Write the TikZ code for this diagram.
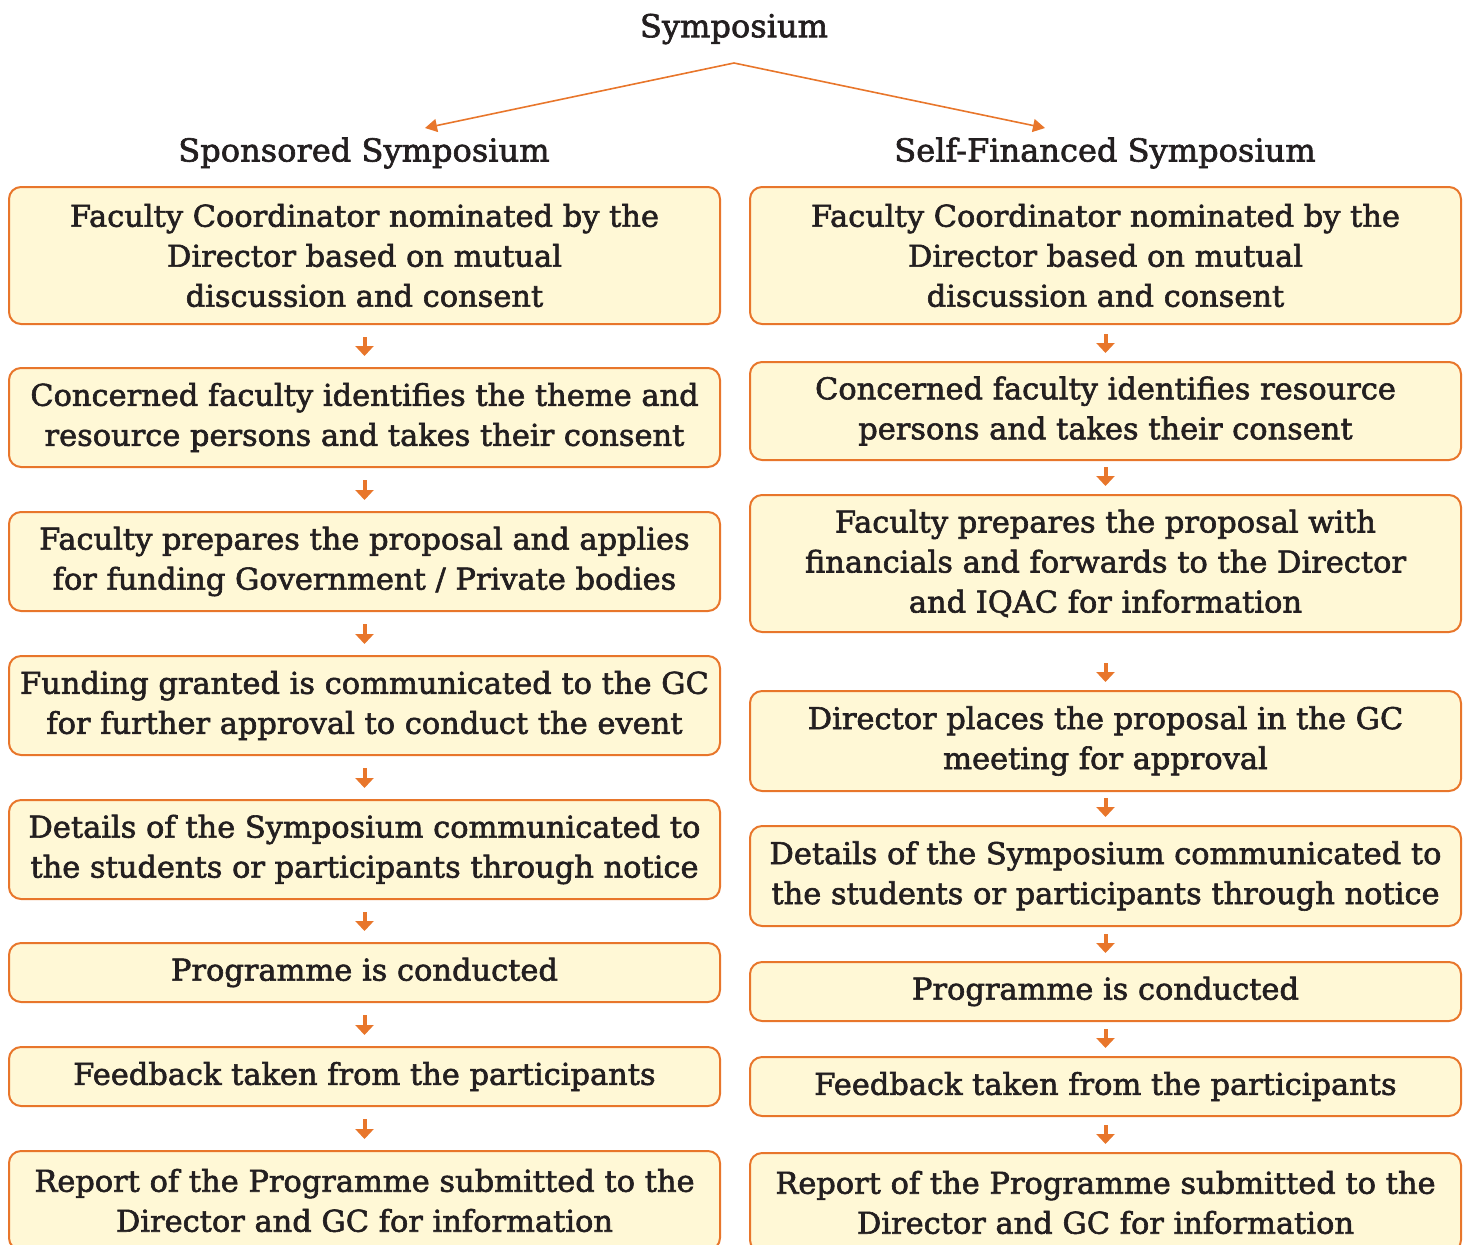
\documentclass[tikz,border=0pt]{standalone}
\usepackage{fontspec}
\setmainfont{DejaVu Serif}[FakeBold=2, FakeStretch=1.015]
\usepackage{tikz}
\usetikzlibrary{arrows.meta}

\definecolor{boxline}{HTML}{E8762B}
\definecolor{boxfill}{HTML}{FFF8D6}
\definecolor{inktext}{HTML}{231F20}

\begin{document}
\begin{tikzpicture}[x=0.5pt,y=-0.5pt,
    flowbox/.style={draw=boxline, fill=boxfill, line width=1pt, rounded corners=6pt,
        minimum width=355.5pt, inner sep=0pt, align=center, text=inktext,
        font=\fontsize{15}{20}\selectfont},
    headtext/.style={text=inktext, inner sep=0pt, font=\fontsize{15.8}{20}\selectfont},
    flowarrow/.style={draw=boxline, line width=2pt,
        -{Triangle[width=9pt,length=5pt]}},
    toparrow/.style={draw=boxline, line width=0.8pt,
        -{Triangle[width=6.5pt,length=6pt]}}]
    \useasboundingbox (0,0) rectangle (1466,1244);

    % Headings
    \node[headtext] (title) at (734,29) {Symposium};
    \node[headtext] (sponsored) at (364,153) {Sponsored Symposium};
    \node[headtext] (selffin) at (1105,153) {Self-Financed Symposium};
    \coordinate (split) at (734,63);
    \coordinate (spontip) at (425,128);
    \coordinate (selftip) at (1045,128);
    \draw[toparrow] (split) -- (spontip);
    \draw[toparrow] (split) -- (selftip);

    % Sponsored column
    \node[flowbox, minimum height=68.5pt] (L1) at (364.5,255.5)
        {Faculty Coordinator nominated by the\\Director based on mutual\\discussion and consent};
    \node[flowbox, minimum height=49.5pt] (L2) at (364.5,417.5)
        {Concerned faculty identifies the theme and\\resource persons and takes their consent};
    \node[flowbox, minimum height=49.5pt] (L3) at (364.5,561.5)
        {Faculty prepares the proposal and applies\\for funding Government / Private bodies};
    \node[flowbox, minimum height=49.5pt] (L4) at (364.5,705.5)
        {Funding granted is communicated to the GC\\for further approval to conduct the event};
    \node[flowbox, minimum height=49.5pt] (L5) at (364.5,849.5)
        {Details of the Symposium communicated to\\the students or participants through notice};
    \node[flowbox, minimum height=29.5pt] (L6) at (364.5,972.5)
        {Programme is conducted};
    \node[flowbox, minimum height=29.5pt] (L7) at (364.5,1076.5)
        {Feedback taken from the participants};
    \node[flowbox, minimum height=49.5pt] (L8) at (364.5,1200.5)
        {Report of the Programme submitted to the\\Director and GC for information};

    % Self-financed column
    \node[flowbox, minimum height=68.5pt] (R1) at (1105.5,255.5)
        {Faculty Coordinator nominated by the\\Director based on mutual\\discussion and consent};
    \node[flowbox, minimum height=49pt] (R2) at (1105.5,411)
        {Concerned faculty identifies resource\\persons and takes their consent};
    \node[flowbox, minimum height=68.5pt] (R3) at (1105.5,563.5)
        {Faculty prepares the proposal with\\financials and forwards to the Director\\and IQAC for information};
    \node[flowbox, minimum height=50pt] (R4) at (1105.5,741)
        {Director places the proposal in the GC\\meeting for approval};
    \node[flowbox, minimum height=50pt] (R5) at (1105.5,876)
        {Details of the Symposium communicated to\\the students or participants through notice};
    \node[flowbox, minimum height=29.5pt] (R6) at (1105.5,991.5)
        {Programme is conducted};
    \node[flowbox, minimum height=29.5pt] (R7) at (1105.5,1086.5)
        {Feedback taken from the participants};
    \node[flowbox, minimum height=49.5pt] (R8) at (1105.5,1202.5)
        {Report of the Programme submitted to the\\Director and GC for information};

    % Step arrows
    \foreach \a/\b in {L1/L2,L2/L3,L3/L4,L4/L5,L5/L6,L6/L7,L7/L8}
        \draw[flowarrow, shorten <=6pt, shorten >=5.5pt] (\a) -- (\b);
    \foreach \a/\b/\s in {R1/R2/4.5pt,R2/R3/3pt,R3/R4/15pt,R4/R5/3pt,R5/R6/3.5pt,R6/R7/3.5pt,R7/R8/4pt}
        \draw[flowarrow, shorten <=\s, shorten >=4pt] (\a) -- (\b);
\end{tikzpicture}
\end{document}
